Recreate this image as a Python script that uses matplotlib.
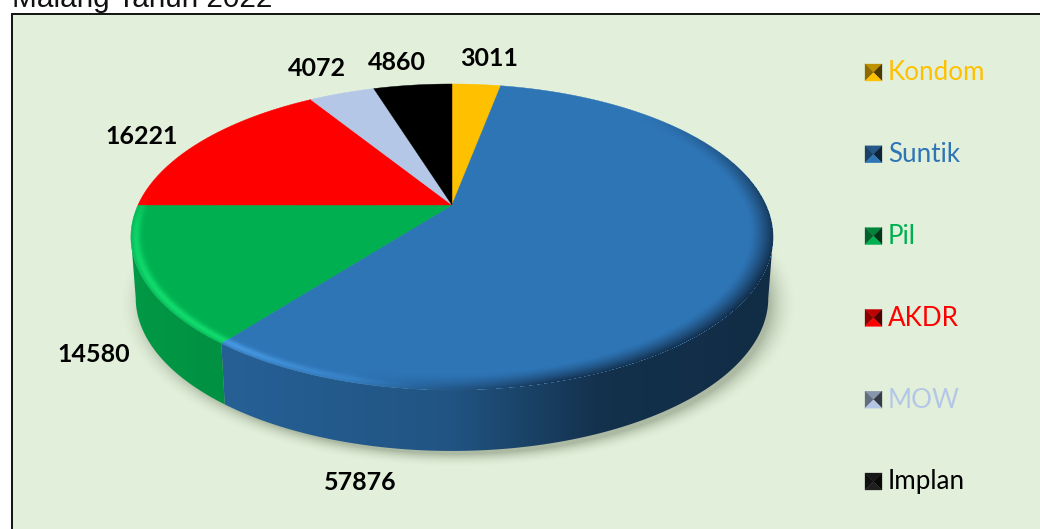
import numpy as np
import matplotlib
matplotlib.use('Agg')
import matplotlib.pyplot as plt
from matplotlib.patches import Polygon, Rectangle

title = "Malang Tahun 2022"
methods = ["Kondom", "Suntik", "Pil", "AKDR", "MOW", "Implan"]
users = [3011, 57876, 14580, 16221, 4072, 4860]
colors = ["#FFC000", "#2E75B6", "#00B050", "#FF0000", "#B4C7E7", "#000000"]
label_xy = [(489, 58), (360, 483), (94, 354), (142, 136), (317, 68), (397, 62)]

# pie geometry in pixels, tilted disc uses a simple projective squash
cx, cy = 452, 205
a, b, k = 314, 146.3, 0.209
depth, shrink = 61, 0.985
bg = "#E2EFDA"


def top_pts(theta, r=1.0):
    # theta in degrees clockwise from 12 o'clock
    t = np.radians(theta)
    x, y = r * np.sin(t), r * np.cos(t)
    d = 1 + k * y
    return np.column_stack([cx + a * x / d, cy - b * y / d])


def bottom_pts(theta):
    p = top_pts(theta)
    p[:, 0] = cx + (p[:, 0] - cx) * shrink
    p[:, 1] = p[:, 1] + depth
    return p


fig = plt.figure(figsize=(10.4, 5.29), dpi=100, facecolor="white")
ax = fig.add_axes([0, 0, 1, 1])
H, W = 529, 1040

ax.add_patch(Rectangle((12, 14), 1200, 700, facecolor=bg, edgecolor="#111111", lw=1.4, zorder=0))

# soft shadow under the disc
gx, gy = np.meshgrid(np.arange(W) + 0.5, np.arange(H) + 0.5)
dist = np.hypot((gx - 458) / 318, (gy - 304) / 153)
shadow = np.zeros((H, W, 4))
shadow[..., :3] = (0.25, 0.3, 0.2)
shadow[..., 3] = 0.33 * np.clip((1.07 - dist) / 0.09, 0, 1) ** 2
shadow[:15, :, 3] = 0
ax.imshow(shadow, extent=(0, W, H, 0), interpolation="nearest", zorder=1, aspect="auto")

angles = np.concatenate([[0], np.cumsum(users) / np.sum(users) * 360])

# side wall, only the front part of the rim shows
side_from = np.degrees(np.arccos(-k))
side_to = 360 - side_from
shade_x = [130, 228, 450, 600, 772]
shade_v = [0.87, 0.82, 0.72, 0.42, 0.38]
for i, c in enumerate(colors):
    t0, t1 = max(angles[i], side_from), min(angles[i + 1], side_to)
    if t1 <= t0:
        continue
    th = np.linspace(t0, t1, 200)
    poly = Polygon(np.vstack([top_pts(th), bottom_pts(th)[::-1]]), closed=True,
                   transform=ax.transData, facecolor="none", edgecolor="none")
    ax.add_patch(poly)
    rgb = np.array(matplotlib.colors.to_rgb(c))
    grad = np.interp(np.arange(W) + 0.5, shade_x, shade_v)[None, :, None] * rgb[None, None, :]
    im = ax.imshow(grad, extent=(0, W, H, 0), interpolation="nearest", zorder=2, aspect="auto")
    im.set_clip_path(poly)

# top face slices
for i, c in enumerate(colors):
    th = np.linspace(angles[i], angles[i + 1], 200)
    pts = np.vstack([[cx, cy], top_pts(th)])
    ax.add_patch(Polygon(pts, closed=True, facecolor=c, edgecolor=c, lw=0.3, zorder=3))

# rim bevel: dark on the right, then a bright stripe on the lower left
Yp = cy - gy
Yd = b - k * Yp
disc_y = Yp / Yd
disc_x = (gx - cx) / a * (b / Yd)
r = np.hypot(disc_x, disc_y)
th_px = np.degrees(np.arctan2(disc_x, disc_y)) % 360

dark = np.clip((r - 0.93) / 0.07, 0, 1) ** 1.3 * np.interp(th_px, [45, 85, 115, 165, 195], [0, 0.6, 0.85, 0.75, 0])
rim_dark = np.zeros((H, W, 4))
rim_dark[..., :3] = (0.05, 0.12, 0.2)
rim_dark[..., 3] = np.where(r <= 1, dark, 0)
ax.imshow(rim_dark, extent=(0, W, H, 0), interpolation="nearest", zorder=4, aspect="auto")

slice_idx = np.clip(np.searchsorted(angles, th_px) - 1, 0, len(colors) - 1)
light = np.clip(0.1 + 1.2 * np.array([matplotlib.colors.to_rgb(c) for c in colors]), 0, 1)
glow = np.exp(-((r - 0.985) / 0.014) ** 2) * np.interp(th_px, [185, 215, 240, 262, 280], [0, 0.7, 0.7, 0.55, 0])
rim_glow = np.zeros((H, W, 4))
rim_glow[..., :3] = light[slice_idx]
rim_glow[..., 3] = np.where(r <= 1, glow, 0)
ax.imshow(rim_glow, extent=(0, W, H, 0), interpolation="nearest", zorder=4, aspect="auto")

# value labels
for (lx, ly), v in zip(label_xy, users):
    ax.text(lx, ly, str(v), family="Lato", weight="bold", fontsize=18, color="black",
            ha="center", va="center", zorder=6)

# legend with little pyramid keys
legend_y = np.linspace(72, 481, len(methods))
for name, c, y in zip(methods, colors, legend_y):
    rgb = np.array(matplotlib.colors.to_rgb(c))
    x0, x1, y0, y1 = 865, 882, y - 8, y + 9
    mid = ((x0 + x1) / 2, (y0 + y1) / 2)
    faces = [([(x0, y0), (x1, y0)], 0.75), ([(x0, y0), (x0, y1)], 0.55),
             ([(x1, y0), (x1, y1)], 0.3), ([(x0, y1), (x1, y1)], 1.0)]
    for edge, shade in faces:
        tone = rgb * shade if c != "#000000" else np.array([0.12, 0.12, 0.12]) * shade
        ax.add_patch(Polygon(edge + [mid], closed=True, facecolor=tone, edgecolor=tone, lw=0.2, zorder=5))
    ax.text(888, y + 1, name, family="Lato", fontsize=18.7, color=c, ha="left", va="center", zorder=6)

ax.text(12, 7, title, family="Liberation Sans", fontsize=21.4, color="#111111", ha="left", va="baseline", zorder=6)

ax.set_xlim(0, W)
ax.set_ylim(H, 0)
ax.axis("off")
fig.savefig("out.png", dpi=100)
